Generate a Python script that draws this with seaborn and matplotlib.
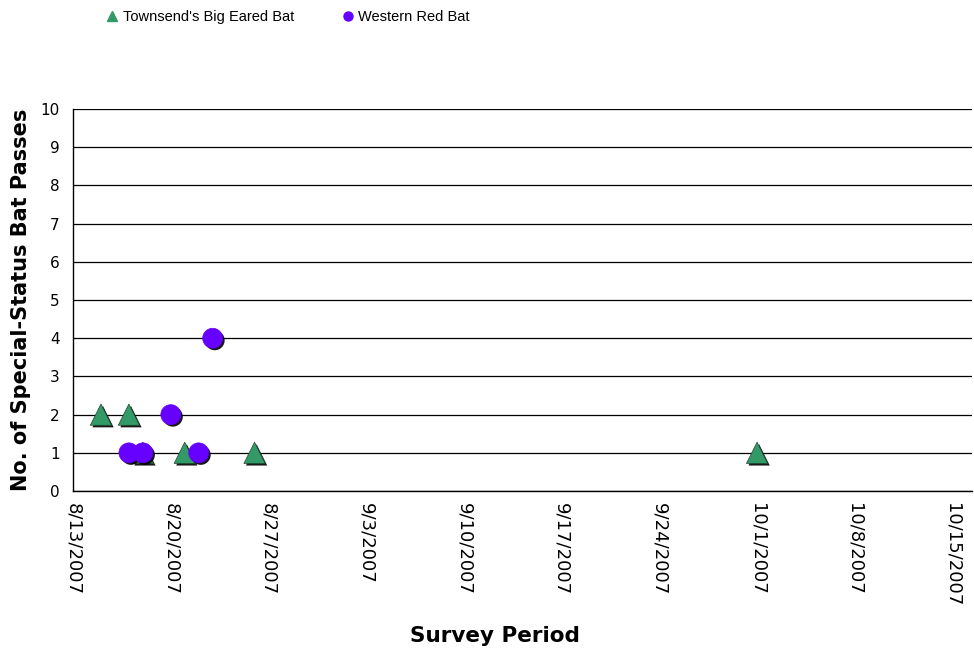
import pandas as pd
import numpy as np
import matplotlib
matplotlib.use("Agg")
import matplotlib.pyplot as plt
import matplotlib.dates as mdates
import matplotlib.patheffects as pe
from matplotlib.lines import Line2D
import seaborn as sns

# data
townsend_dates = ["2007-08-15", "2007-08-17", "2007-08-18", "2007-08-21", "2007-08-26", "2007-10-01"]
townsend_passes = [2, 2, 1, 1, 1, 1]
redbat_dates = ["2007-08-17", "2007-08-18", "2007-08-20", "2007-08-22", "2007-08-23"]
redbat_passes = [1, 1, 2, 1, 4]
species = ["Townsend's Big Eared Bat", "Western Red Bat"]
tick_dates = ["2007-08-13", "2007-08-20", "2007-08-27", "2007-09-03", "2007-09-10",
              "2007-09-17", "2007-09-24", "2007-10-01", "2007-10-08", "2007-10-15"]

df = pd.concat([
    pd.DataFrame({"date": pd.to_datetime(townsend_dates), "passes": townsend_passes, "species": species[0]}),
    pd.DataFrame({"date": pd.to_datetime(redbat_dates), "passes": redbat_passes, "species": species[1]}),
], ignore_index=True)

sns.set_style("white")
plt.rcParams['font.family'] = ['DejaVu Sans']
plt.rcParams['text.color'] = 'black'
plt.rcParams['xtick.color'] = 'black'
plt.rcParams['ytick.color'] = 'black'
plt.rcParams['axes.labelcolor'] = 'black'

colors = {species[0]: "#339966", species[1]: "#6600FF"}
marks = {species[0]: "^", species[1]: "o"}
sizes = {species[0]: 235, species[1]: 205}

fig = plt.figure(figsize=(9.74, 6.54), dpi=100)
ax = fig.add_axes([0.075, 0.2492, 0.923, 0.5841])

shadow = [pe.SimplePatchShadow(offset=(1.5, -1.5), shadow_rgbFace="black", alpha=0.9), pe.Normal()]
for sp in species:
    sub = df[df["species"] == sp]
    sns.scatterplot(data=sub, x="date", y="passes", ax=ax, color=colors[sp], marker=marks[sp],
                    s=sizes[sp], edgecolor="#1f4a33" if sp == species[0] else colors[sp],
                    linewidth=0.5, legend=False, zorder=3, clip_on=False)
for coll in ax.collections:
    coll.set_path_effects(shadow)

start = mdates.date2num(pd.Timestamp("2007-08-13"))
ax.set_xlim(start, start + 64.4)
ax.set_ylim(0, 10)
ax.set_yticks(range(0, 11))
ax.set_xticks([mdates.date2num(pd.Timestamp(d)) for d in tick_dates])
ax.set_xticklabels([f"{pd.Timestamp(d).month}/{pd.Timestamp(d).day}/{pd.Timestamp(d).year}" for d in tick_dates],
                   rotation=270, fontsize=13)
ax.xaxis.set_minor_locator(mdates.DayLocator())
ax.tick_params(axis="x", which="major", direction="inout", length=9, width=1, color="black", pad=4)
ax.tick_params(axis="x", which="minor", direction="in", length=3.5, width=1, color="black")
ax.tick_params(axis="y", which="major", direction="out", length=4.5, width=1, color="black", labelsize=11, pad=5)
for lab in ax.get_xticklabels():
    lab.set_va("top")
    lab.set_ha("center")

ax.yaxis.grid(True, color="black", linewidth=0.9)
ax.set_axisbelow(True)
for s in ["top", "right"]:
    ax.spines[s].set_visible(False)
for s in ["left", "bottom"]:
    ax.spines[s].set_color("black")
    ax.spines[s].set_linewidth(1)
ax.set_xlabel("")
ax.set_ylabel("")

fig.text(495 / 974, 1 - 636 / 654, "Survey Period", fontsize=15.5, fontweight="bold", ha="center", va="center")
fig.text(21 / 974, 1 - 300 / 654, "No. of Special-Status Bat Passes", fontsize=15, fontweight="bold",
         rotation=90, ha="center", va="center")

handles = [Line2D([], [], linestyle="none", marker="^", color=colors[species[0]], markersize=7.5),
           Line2D([], [], linestyle="none", marker="o", color=colors[species[1]], markersize=6.5)]
leg = fig.legend(handles, species, loc="upper left", bbox_to_anchor=(0.108, 0.985), ncol=2, frameon=False,
                 handletextpad=0.2, columnspacing=3.2, handlelength=1,
                 borderpad=0, borderaxespad=0, prop={"family": "Liberation Sans", "size": 10.5})

fig.savefig("out.png", dpi=100)
